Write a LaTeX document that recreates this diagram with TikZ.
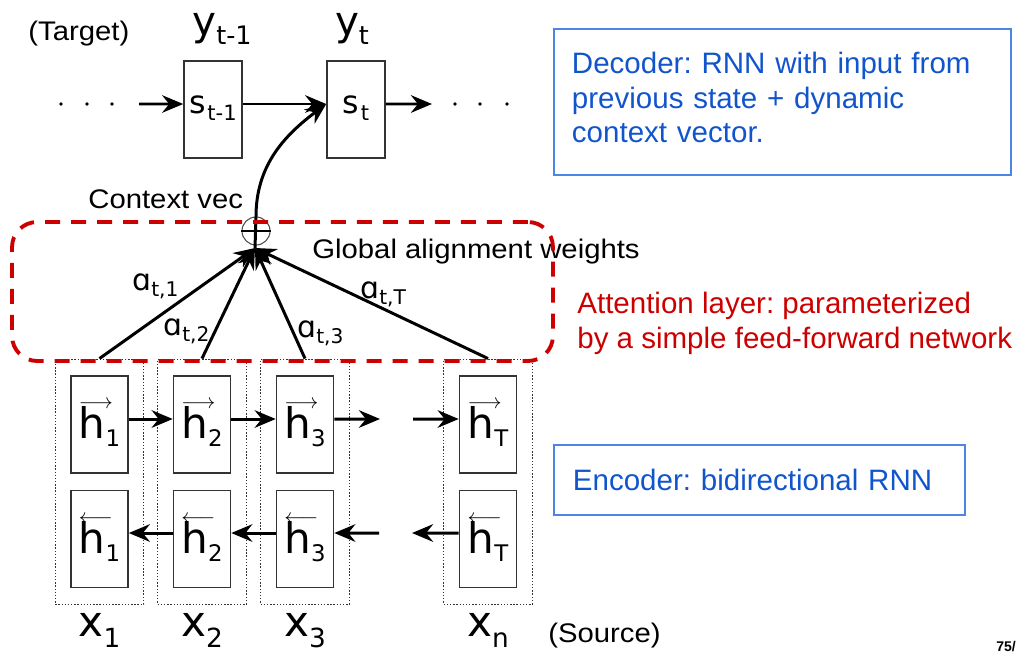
\documentclass[tikz,border=0pt]{standalone}
\usepackage{fontspec}
\usepackage{tikz}
\usetikzlibrary{arrows.meta,positioning,fit}
\setmainfont{Liberation Sans}
\newfontfamily\figfont[FakeStretch=1.09]{Liberation Sans}
\newfontfamily\dvfont{DejaVu Sans}
\definecolor{textblue}{HTML}{1155CC}
\definecolor{boxblue}{HTML}{4A86E8}
\definecolor{attred}{HTML}{CC0000}
\frenchspacing
\newcommand{\slidefont}{\fontsize{16.8}{19.6}\selectfont}
\newcommand{\figsize}{\fontsize{15.3}{18}\selectfont}
\tikzset{
  stbox/.style={draw=black!80, line width=0.9pt, minimum width=1.16cm, minimum height=1.94cm,
    inner sep=0pt, font=\dvfont, text height=0.42cm, text depth=0.28cm},
  hbox/.style={draw=black!80, line width=0.9pt, minimum width=1.14cm, minimum height=1.94cm,
    inner sep=0pt, font=\dvfont, text height=0.82cm, text depth=0.26cm},
  xbox/.style={draw=black!80, densely dotted, line width=0.8pt, inner xsep=0.3cm, inner ysep=0.32cm},
  arr/.style={line width=1.7pt, -{Stealth[length=12pt,width=10pt,inset=4pt]}},
  oplus/.style={draw=black!70, circle, line width=0.6pt, minimum size=0.56cm, inner sep=0pt},
  attbox/.style={draw=attred, line width=2.2pt, dash pattern=on 0.3cm off 0.22cm, rounded corners=0.5cm},
  slidebox/.style={draw=boxblue, line width=1.1pt, text=textblue, font=\slidefont, align=left},
  figlbl/.style={font=\figfont\figsize, inner sep=0pt},
  symlbl/.style={font=\dvfont, inner sep=0pt},
}
\newcommand{\ylab}[1]{{\fontsize{23}{23}\selectfont y}\raisebox{-0.18cm}{\fontsize{14.5}{14.5}\selectfont #1}}
\newcommand{\slab}[1]{{\fontsize{18}{18}\selectfont s}\hspace{1pt}\raisebox{-0.14cm}{\fontsize{12}{12}\selectfont #1}}
\newcommand{\hfw}[1]{\rlap{\raisebox{0.6cm}{\fontsize{13}{13}\selectfont$\longrightarrow$}}%
  {\fontsize{24}{24}\selectfont h}\raisebox{-0.16cm}{\fontsize{13}{13}\selectfont #1}}
\newcommand{\hbw}[1]{\rlap{\raisebox{0.6cm}{\fontsize{13}{13}\selectfont$\longleftarrow$}}%
  {\fontsize{24}{24}\selectfont h}\raisebox{-0.16cm}{\fontsize{13}{13}\selectfont #1}}
\newcommand{\xlab}[1]{{\fontsize{24}{24}\selectfont x}\raisebox{-0.22cm}{\fontsize{15}{15}\selectfont #1}}
\newcommand{\alab}[1]{{\fontsize{17}{17}\selectfont ɑ}\raisebox{-0.13cm}{\fontsize{11.5}{11.5}\selectfont #1}}

\begin{document}
\begin{tikzpicture}[x=0.02cm, y=-0.02cm]
  \useasboundingbox (0,0) rectangle (1017,653);

  % decoder states
  \node[stbox] (s1) at (213,109.5) {\slab{t-1}};
  \node[stbox] (s2) at (356,109.5) {\slab{t}};
  \node[symlbl, anchor=base] (y1) at (222,35) {\ylab{t-1}};
  \node[symlbl, anchor=base] (y2) at (352,35) {\ylab{t}};
  \node[figlbl, anchor=base west] (tgt) at (28,40) {(Target)};

  \foreach \x in {61,87,112,455,480,507}
    \fill (\x,104) circle (1.1pt);
  \coordinate (inl) at (139,104);
  \coordinate (outr) at (432,104);
  \draw[arr] (inl) -- ([yshift=0.11cm]s1.west);
  \draw[arr] ([yshift=0.11cm]s1.east) -- ([yshift=0.11cm]s2.west);
  \draw[arr] ([yshift=0.11cm]s2.east) -- (outr);

  % encoder states
  \node[hbox] (hf1) at (99.5,424.5) {\hfw{1}};
  \node[hbox] (hf2) at (202,424.5) {\hfw{2}};
  \node[hbox] (hf3) at (305,424.5) {\hfw{3}};
  \node[hbox] (hfT) at (488,424.5) {\hfw{T}};
  \node[hbox] (hb1) at (99.5,539) {\hbw{1}};
  \node[hbox] (hb2) at (202,539) {\hbw{2}};
  \node[hbox] (hb3) at (305,539) {\hbw{3}};
  \node[hbox] (hbT) at (488,539) {\hbw{T}};

  \node[xbox, fit=(hf1)(hb1)] (xb1) {};
  \node[xbox, fit=(hf2)(hb2)] (xb2) {};
  \node[xbox, fit=(hf3)(hb3)] (xb3) {};
  \node[xbox, fit=(hfT)(hbT)] (xbT) {};

  \node[symlbl, below=0.64cm of xb1.south, anchor=base] (x1) {\xlab{1}};
  \node[symlbl, below=0.64cm of xb2.south, anchor=base] (x2) {\xlab{2}};
  \node[symlbl, below=0.64cm of xb3.south, anchor=base] (x3) {\xlab{3}};
  \node[symlbl, below=0.64cm of xbT.south, anchor=base] (xn) {\xlab{n}};
  \node[figlbl, anchor=base west] (src) at (548,642) {(Source)};

  \coordinate (fo) at (380,419);
  \coordinate (fi) at (413,419);
  \coordinate (bo) at (412,533);
  \coordinate (bi) at (379,533);
  \draw[arr] ([yshift=0.11cm]hf1.east) -- ([yshift=0.11cm]hf2.west);
  \draw[arr] ([yshift=0.11cm]hf2.east) -- ([yshift=0.11cm]hf3.west);
  \draw[arr] ([yshift=0.11cm]hf3.east) -- (fo);
  \draw[arr] (fi) -- ([yshift=0.11cm]hfT.west);
  \draw[arr] ([yshift=0.12cm]hbT.west) -- (bo);
  \draw[arr] (bi) -- ([yshift=0.12cm]hb3.east);
  \draw[arr] ([yshift=0.12cm]hb3.west) -- ([yshift=0.12cm]hb2.east);
  \draw[arr] ([yshift=0.12cm]hb2.west) -- ([yshift=0.12cm]hb1.east);

  % attention
  \coordinate (cv) at (255,248);
  \node[oplus] (ctx) at (256,231) {};
  \draw[arr] (xb1.north) -- (cv);
  \draw[arr] (xb2.north) -- (cv);
  \draw[arr] (xb3.north) -- (cv);
  \draw[arr] (xbT.north) -- (cv);
  \draw[line width=1.2pt] (ctx.west) -- (ctx.east);
  \draw[arr] (cv) -- (ctx.north) .. controls (256,165) and (285,135) .. ([yshift=0.11cm]s2.west);

  \node[symlbl, anchor=base west] (a1) at (132,290) {\alab{t,1}};
  \node[symlbl, anchor=base west] (a2) at (163,335) {\alab{t,2}};
  \node[symlbl, anchor=base west] (a3) at (297,337) {\alab{t,3}};
  \node[symlbl, anchor=base west] (aT) at (360,298) {\alab{t,T}};
  \node[figlbl, anchor=base west] (cvec) at (88,208) {Context vec};
  \node[figlbl, anchor=base west] (glob) at (312,258) {Global alignment weights};

  \node[attbox, minimum width=10.82cm, minimum height=2.78cm] (attn) at (282.5,291.5) {};

  % slide notes
  \node[slidebox, anchor=north west, text width=8.42cm, inner xsep=0.36cm, minimum height=2.92cm] (dec) at (553,28)
    {Decoder: RNN with input from\\previous state + dynamic\\context vector.\rule[-0.17cm]{0pt}{0pt}};
  \node[anchor=north west, text=attred, font=\slidefont, align=left, inner sep=0pt] (att) at (577,292)
    {Attention layer: parameterized\\by a simple feed-forward network};
  \node[slidebox, anchor=north west, text width=7.46cm, inner xsep=0.38cm, minimum height=1.4cm] (enc) at (553,444)
    {Encoder: bidirectional RNN};
  \node[anchor=base west, font=\bfseries\fontsize{8}{8}\selectfont, inner sep=0pt] (pg) at (996,651) {75/};
\end{tikzpicture}
\end{document}
